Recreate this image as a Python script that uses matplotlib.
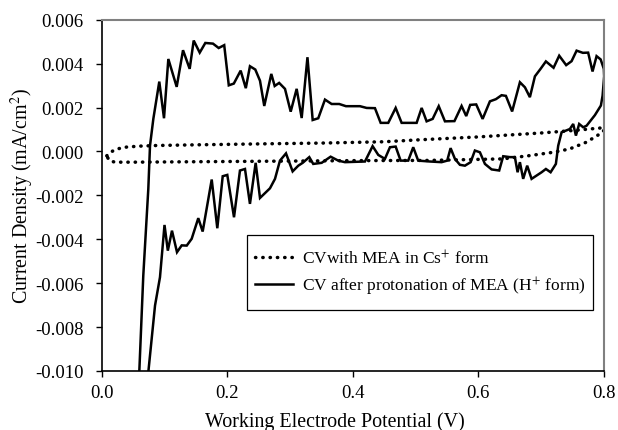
import matplotlib
matplotlib.use("Agg")
import matplotlib.pyplot as plt
from matplotlib.ticker import FuncFormatter, FixedLocator

plt.rcParams["font.family"] = ["Liberation Serif", "DejaVu Serif"]
plt.rcParams["mathtext.fontset"] = "stix"

# CV of the MEA in Cs+ form (closed loop, mA/cm2 vs V)
cs_potential = [0.008, 0.015, 0.024, 0.040, 0.060, 0.088, 0.15, 0.27, 0.35, 0.45,
                0.507, 0.60, 0.70, 0.75, 0.80,
                0.80, 0.796, 0.772, 0.745, 0.719, 0.682, 0.639, 0.52, 0.40,
                0.30, 0.20, 0.10, 0.05, 0.021, 0.012, 0.008]
cs_current = [-0.00020, -0.00002, 0.00011, 0.00020, 0.00024, 0.00027, 0.00030,
              0.00035, 0.00038, 0.00044, 0.00053, 0.00066, 0.00084, 0.00095,
              0.00108,
              0.00096, 0.00084, 0.00042, 0.00011, -0.00004, -0.00019, -0.00034,
              -0.00041, -0.00042, -0.00044, -0.00046, -0.00048, -0.00049,
              -0.00049, -0.00042, -0.00020]

# CV after protonation (H+ form): anodic sweep followed by the return sweep
h_potential = [0.0590, 0.0599, 0.0662, 0.0742, 0.0769, 0.0822, 0.0917, 0.0992,
               0.1061, 0.1194, 0.1295, 0.1401, 0.1465, 0.1561, 0.1650, 0.1772,
               0.1863, 0.1951, 0.2024, 0.2104, 0.2213, 0.2295, 0.2361, 0.2446,
               0.2521, 0.2589, 0.2701, 0.2755, 0.2826, 0.2919, 0.3010, 0.3105,
               0.3185, 0.3277, 0.3360, 0.3449, 0.3556, 0.3662, 0.3783, 0.3890,
               0.4113, 0.4220, 0.4352, 0.4443, 0.4564, 0.4682, 0.4777, 0.5016,
               0.5096, 0.5175, 0.5271, 0.5368, 0.5467, 0.5618, 0.5732, 0.5806,
               0.5869, 0.5965, 0.6067, 0.6183, 0.6279, 0.6369, 0.6438, 0.6537,
               0.6661, 0.6741, 0.6820, 0.6900, 0.6990, 0.7075, 0.7197, 0.7287,
               0.7398, 0.7484, 0.7564, 0.7664, 0.7748, 0.7818, 0.7882, 0.7947,
               0.7998, 0.8003,
               0.7978, 0.7951, 0.7855, 0.7723, 0.7669, 0.7605, 0.7553, 0.7510,
               0.7457, 0.7325, 0.7271, 0.7234, 0.7150, 0.7075, 0.7006, 0.6927,
               0.6847, 0.6777, 0.6713, 0.6661, 0.6624, 0.6581, 0.6502, 0.6395,
               0.6331, 0.6210, 0.6104, 0.6024, 0.5944, 0.5876, 0.5785, 0.5705,
               0.5626, 0.5557, 0.5503, 0.5414, 0.5228, 0.5041, 0.4962, 0.4882,
               0.4761, 0.4682, 0.4591, 0.4511, 0.4405, 0.4315, 0.4193, 0.3874,
               0.3768, 0.3646, 0.3503, 0.3369, 0.3306, 0.3201, 0.3131, 0.3041,
               0.2935, 0.2839, 0.2760, 0.2680, 0.2521, 0.2452, 0.2361, 0.2282,
               0.2202, 0.2107, 0.2000, 0.1927, 0.1841, 0.1752, 0.1608, 0.1538,
               0.1433, 0.1354, 0.1274, 0.1199, 0.1119, 0.1053, 0.1000, 0.0928,
               0.0849, 0.0742, 0.0735]
h_current = [-0.01050, -0.01000, -0.00566, -0.00171, 0.00026, 0.00148, 0.00318,
             0.00151, 0.00421, 0.00294, 0.00461, 0.00376, 0.00505, 0.00450,
             0.00494, 0.00491, 0.00471, 0.00484, 0.00301, 0.00309, 0.00368,
             0.00288, 0.00388, 0.00373, 0.00322, 0.00207, 0.00353, 0.00298,
             0.00312, 0.00285, 0.00181, 0.00285, 0.00152, 0.00429, 0.00143,
             0.00151, 0.00236, 0.00216, 0.00216, 0.00206, 0.00206, 0.00198,
             0.00197, 0.00130, 0.00130, 0.00198, 0.00130, 0.00130, 0.00198,
             0.00137, 0.00148, 0.00206, 0.00137, 0.00138, 0.00207, 0.00161,
             0.00212, 0.00214, 0.00148, 0.00228, 0.00238, 0.00256, 0.00253,
             0.00182, 0.00315, 0.00292, 0.00247, 0.00342, 0.00376, 0.00410,
             0.00381, 0.00436, 0.00393, 0.00411, 0.00459, 0.00449, 0.00450,
             0.00364, 0.00434, 0.00419, 0.00376, 0.00342,
             0.00254, 0.00209, 0.00165, 0.00117, 0.00110, 0.00125, 0.00072,
             0.00125, 0.00102, 0.00087, 0.00026, -0.00057, -0.00095, -0.00080,
             -0.00095, -0.00110, -0.00125, -0.00065, -0.00125, -0.00049,
             -0.00095, -0.00026, -0.00026, -0.00022, -0.00087, -0.00082,
             -0.00057, -0.00004, 0.00004, -0.00049, -0.00065, -0.00061,
             -0.00034, 0.00015, -0.00042, -0.00049, -0.00046, -0.00042,
             0.00019, -0.00042, -0.00042, 0.00022, 0.00019, -0.00034, -0.00016,
             0.00024, -0.00046, -0.00049, -0.00042, -0.00024, -0.00052,
             -0.00057, -0.00026, -0.00052, -0.00065, -0.00091, -0.00009,
             -0.00042, -0.00125, -0.00168, -0.00212, -0.00052, -0.00239,
             -0.00080, -0.00087, -0.00300, -0.00107, -0.00113, -0.00350,
             -0.00128, -0.00365, -0.00304, -0.00398, -0.00429, -0.00428,
             -0.00459, -0.00361, -0.00452, -0.00335, -0.00573, -0.00702,
             -0.01006, -0.01050]

x_ticks = [0.0, 0.2, 0.4, 0.6, 0.8]
y_ticks = [-0.010, -0.008, -0.006, -0.004, -0.002, 0.000, 0.002, 0.004, 0.006]

fig = plt.figure(figsize=(6.18, 4.31), dpi=100)
ax = fig.add_axes([0.1646, 0.137, 0.8127, 0.815])

dotted, = ax.plot(cs_potential, cs_current, color="black", lw=2.5,
                  dashes=(0.1, 2.0), dash_capstyle="round",
                  label=r"CVwith MEA in Cs$^{+}$ form")
solid, = ax.plot(h_potential, h_current, color="black", lw=1.8,
                 solid_joinstyle="miter",
                 label=r"CV after protonation of MEA (H$^{+}$ form)")

ax.set_xlim(0.0, 0.8)
ax.set_ylim(-0.010, 0.006)
ax.xaxis.set_major_locator(FixedLocator(x_ticks))
ax.yaxis.set_major_locator(FixedLocator(y_ticks))
ax.xaxis.set_major_formatter(FuncFormatter(lambda v, p: f"{v:.1f}"))
ax.yaxis.set_major_formatter(FuncFormatter(lambda v, p: f"{v:.3f}"))
ax.tick_params(direction="out", length=4.3, width=1, labelsize=13.5,
               color="black")
ax.tick_params(axis="y", pad=9)
ax.tick_params(axis="x", pad=5)

for side in ("left", "bottom"):
    ax.spines[side].set_color("black")
    ax.spines[side].set_linewidth(1.2)
for side in ("top", "right"):
    ax.spines[side].set_color("#808080")
    ax.spines[side].set_linewidth(1.5)

ax.set_xlabel("Working Electrode Potential (V)", fontsize=14.4)
ax.xaxis.set_label_coords(0.465, -0.115)
ax.set_ylabel(r"Current Density (mA/cm$^{2}$)", fontsize=14.4, labelpad=-1)

leg = ax.legend(handles=[dotted, solid], loc="upper right",
                bbox_to_anchor=(0.978, 0.370), fontsize=12.5, frameon=True,
                fancybox=False, edgecolor="black", framealpha=1,
                handlelength=2.2, handletextpad=0.52,
                borderpad=0.43, labelspacing=0.43, borderaxespad=0)
# taller frame than the horizontal padding: stretch the box style vertically
frame = leg.get_frame()
frame.set_linewidth(0.9)
frame.set_boxstyle("square", pad=0.02)
frame.set_mutation_aspect(17)

fig.savefig("out.png", dpi=100, facecolor="white")
